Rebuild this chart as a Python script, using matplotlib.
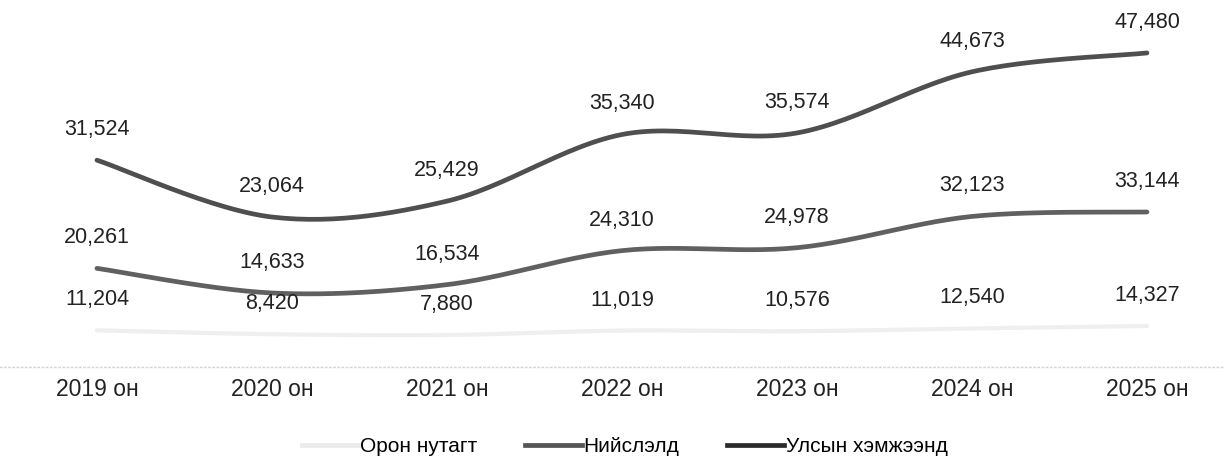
import numpy as np
import matplotlib.pyplot as plt

plt.rcParams['font.family'] = ['Liberation Sans', 'DejaVu Sans']

years = ["2019 он", "2020 он", "2021 он", "2022 он", "2023 он", "2024 он", "2025 он"]
national = [31524, 23064, 25429, 35340, 35574, 44673, 47480]   # Улсын хэмжээнд
capital = [20261, 14633, 16534, 24310, 24978, 32123, 33144]    # Нийслэлд
local = [11204, 8420, 7880, 11019, 10576, 12540, 14327]        # Орон нутагт


def smooth(xs, ys, n=30):
    # Excel-style smoothed line (Catmull-Rom as cubic bezier)
    pts = np.column_stack([xs, ys]).astype(float)
    out = []
    for i in range(len(pts) - 1):
        p0 = pts[i - 1] if i > 0 else pts[i]
        p1, p2 = pts[i], pts[i + 1]
        p3 = pts[i + 2] if i + 2 < len(pts) else pts[i + 1]
        c1 = p1 + (p2 - p0) / 6
        c2 = p2 - (p3 - p1) / 6
        t = np.linspace(0, 1, n)[:, None]
        seg = (1 - t) ** 3 * p1 + 3 * (1 - t) ** 2 * t * c1 + 3 * (1 - t) * t ** 2 * c2 + t ** 3 * p2
        out.append(seg if i == 0 else seg[1:])
    out = np.vstack(out)
    return out[:, 0], out[:, 1]


fig = plt.figure(figsize=(12.25, 4.63), dpi=100)
ax = fig.add_axes([0, 0.2073, 1, 0.7927])
ax2 = ax.twinx()
ax3 = ax.twinx()

x = np.arange(len(years))
series = [
    (ax, national, "#4f4f4f", 3.4, (744, 55357)),
    (ax2, capital, "#606060", 3.4, (-2285, 81581)),
    (ax3, local, "#efefef", 3.0, (-15000, 247000)),
]
for a, vals, col, lw, lim in series:
    sx, sy = smooth(x, vals)
    a.plot(sx, sy, color=col, lw=lw, solid_capstyle='round')
    a.set_ylim(*lim)
    for xi, v in zip(x, vals):
        a.annotate(f"{v:,}", (xi, v), xytext=(0, 22), textcoords='offset points',
                   ha='center', va='center', fontsize=15.5, color='#222222')
    a.set_yticks([])
    for s in ['top', 'right', 'left']:
        a.spines[s].set_visible(False)
    if a is not ax:
        a.spines['bottom'].set_visible(False)

ax.set_xlim(-0.554, 6.446)
ax.set_xticks(x)
ax.set_xticklabels(years, fontsize=16.5, color='#222222')
ax.tick_params(axis='x', length=0, pad=8)
ax.spines['bottom'].set_color('#d4d4d4')
ax.spines['bottom'].set_linestyle((0, (1, 2)))
ax.spines['bottom'].set_linewidth(1.0)

order = ["Орон нутагт", "Нийслэлд", "Улсын хэмжээнд"]
leg_cols = {"Орон нутагт": "#ebebeb", "Нийслэлд": "#555555", "Улсын хэмжээнд": "#2b2b2b"}
leg_handles = [plt.Line2D([], [], color=leg_cols[n], lw=3.4) for n in order]
fig.legend(leg_handles, order, loc='center', bbox_to_anchor=(0.510, 0.035), ncol=3,
           frameon=False, fontsize=15, handlelength=2.7, handletextpad=0.1,
           columnspacing=2.3)

fig.savefig("out.png", dpi=100)
